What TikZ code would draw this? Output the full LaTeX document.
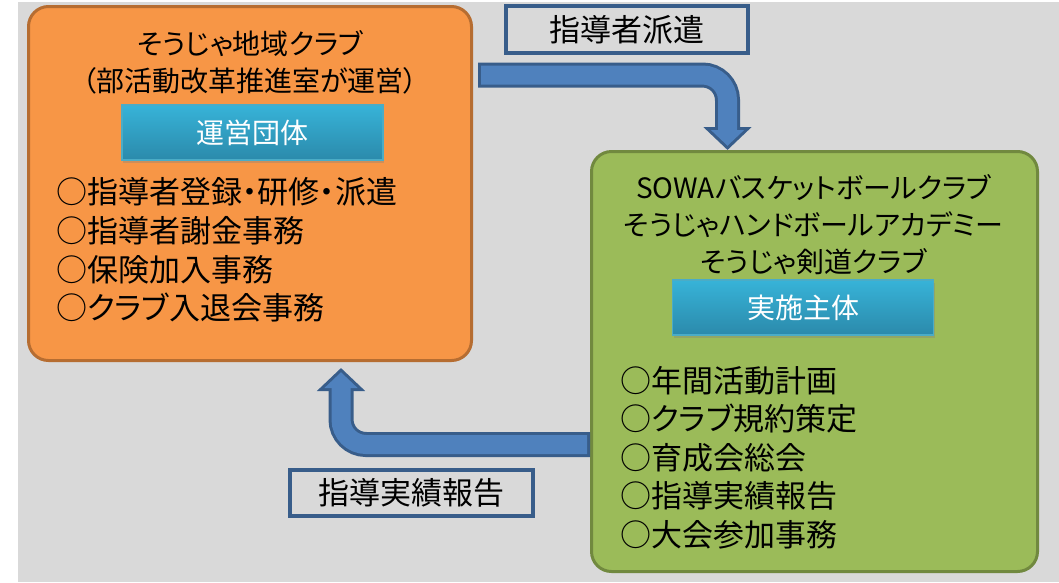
\documentclass[tikz,border=0pt]{standalone}
\usepackage{fontspec}
\setmainfont{Noto Sans CJK JP}[RawFeature=+palt]
\usepackage{tikz}
\usetikzlibrary{arrows.meta,shadows,calc}

\definecolor{bggray}{HTML}{D9D9D9}
\definecolor{orangefill}{HTML}{F79646}
\definecolor{orangeline}{HTML}{B66D31}
\definecolor{greenfill}{HTML}{9BBB59}
\definecolor{greenline}{HTML}{71893F}
\definecolor{tagtop}{HTML}{37B3D8}
\definecolor{tagbottom}{HTML}{2B8AAB}
\definecolor{tagline}{HTML}{4BACC6}
\definecolor{arrowfill}{HTML}{4F81BD}
\definecolor{arrowline}{HTML}{385D8A}

\begin{document}
\begin{tikzpicture}[
    x=1pt, y=-1pt,
    group/.style={rectangle, rounded corners=20pt, line width=3pt, inner sep=0pt},
    title/.style={align=center, inner sep=0pt, font=\fontsize{28}{37}\selectfont},
    tag/.style={rectangle, minimum width=261pt, minimum height=55pt, top color=tagtop, bottom color=tagbottom,
        draw=tagline, line width=1.5pt, text=white, font=\fontsize{28}{28}\selectfont,
        drop shadow={opacity=0.35, shadow xshift=1pt, shadow yshift=-3pt}},
    duties/.style={align=left, inner sep=0pt, font=\fontsize{31}{38.6}\selectfont},
    flowlabel/.style={rectangle, draw=arrowline, line width=4pt, inner sep=0pt, font=\fontsize{31}{31}\selectfont},
    flow/.style={draw=arrowline, line width=25pt, rounded corners=25pt, -{Triangle[length=23pt,width=47pt]},
        postaction={draw=arrowfill, line width=19pt, shorten <=3pt, shorten >=4.2pt, -{Triangle[length=15.8pt,width=32.3pt]}}}
]
\useasboundingbox (0,0) rectangle (1059,582);
\fill[white] (0,0) rectangle (1059,582);
\fill[bggray] (18,2) rectangle (1059,582);

% operating side
\node[group, fill=orangefill, draw=orangeline, minimum width=443pt, minimum height=354pt] (office) at (250,183.5) {};
\node[title] (officename) at (250,62) {そうじゃ地域クラブ\\（部活動改革推進室が運営）};
\node[tag] (officetag) at (252.5,132.5) {運営団体};
\node[duties, anchor=west] (officeduties) at (56,250) {○指導者登録・研修・派遣\\○指導者謝金事務\\○保険加入事務\\○クラブ入退会事務};

% running side
\node[group, fill=greenfill, draw=greenline, minimum width=446pt, minimum height=420pt] (clubs) at (814.5,361.5) {};
\node[title] (clubnames) at (813.5,225) {SOWAバスケットボールクラブ\\そうじゃハンドボールアカデミー\\そうじゃ剣道クラブ};
\node[tag] (clubtag) at (803,307.5) {実施主体};
\node[duties, anchor=west] (clubduties) at (620,457.5) {○年間活動計画\\○クラブ規約策定\\○育成会総会\\○指導実績報告\\○大会参加事務};

% flows
\node[flowlabel, minimum width=242pt, minimum height=47pt] (sendlabel) at (627,29.5) {指導者派遣};
\node[flowlabel, minimum width=243pt, minimum height=46pt] (reportlabel) at (411.5,493) {指導実績報告};
\coordinate (sendbend) at (727.5,75);
\coordinate (reportbend) at (341,444.5);
\draw[flow] ($(office.east |- sendbend)+(5,0)$) -- (sendbend) -- (sendbend |- clubs.north);
\draw[flow] (clubs.west |- reportbend) -- (reportbend) -- ($(reportbend |- office.south)+(0,6)$);
\end{tikzpicture}
\end{document}
